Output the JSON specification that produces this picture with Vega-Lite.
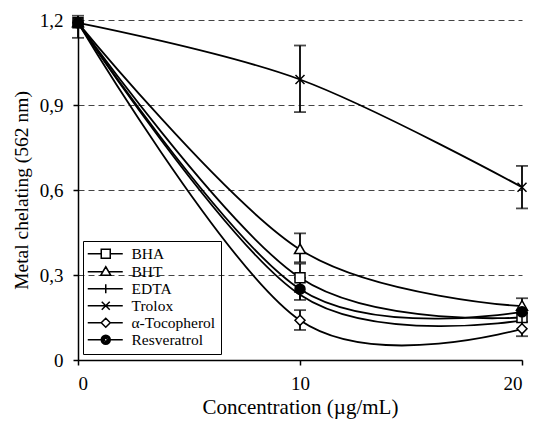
{
  "$schema": "https://vega.github.io/schema/vega-lite/v6.json",
  "width": 444,
  "height": 340,
  "autosize": {"type": "none"},
  "padding": {"left": 78, "top": 20, "right": 12, "bottom": 65},
  "background": "white",
  "config": {
    "view": {"stroke": null},
    "axis": {
      "domainColor": "black", "domainWidth": 1.5, "tickColor": "black", "tickWidth": 1.5,
      "labelFont": "Liberation Serif", "labelFontSize": 19, "labelColor": "black",
      "titleFont": "Liberation Serif", "titleFontWeight": "normal", "titleColor": "black"
    }
  },
  "data": {
    "values": [
      {"series": "BHA", "conc": 0, "value": 1.19, "lo": null, "hi": null},
      {"series": "BHA", "conc": 10, "value": 0.29, "lo": 0.24, "hi": 0.34},
      {"series": "BHA", "conc": 20, "value": 0.15, "lo": null, "hi": null},
      {"series": "BHT", "conc": 0, "value": 1.19, "lo": null, "hi": null},
      {"series": "BHT", "conc": 10, "value": 0.39, "lo": 0.345, "hi": 0.447},
      {"series": "BHT", "conc": 20, "value": 0.19, "lo": 0.165, "hi": 0.218},
      {"series": "EDTA", "conc": 0, "value": 1.19, "lo": null, "hi": null},
      {"series": "EDTA", "conc": 10, "value": 0.23, "lo": null, "hi": null},
      {"series": "EDTA", "conc": 20, "value": 0.14, "lo": null, "hi": null},
      {"series": "Trolox", "conc": 0, "value": 1.19, "lo": 1.137, "hi": 1.215},
      {"series": "Trolox", "conc": 10, "value": 0.99, "lo": 0.875, "hi": 1.11},
      {"series": "Trolox", "conc": 20, "value": 0.61, "lo": 0.535, "hi": 0.685},
      {"series": "α-Tocopherol", "conc": 0, "value": 1.19, "lo": null, "hi": null},
      {"series": "α-Tocopherol", "conc": 10, "value": 0.14, "lo": 0.106, "hi": 0.176},
      {"series": "α-Tocopherol", "conc": 20, "value": 0.11, "lo": 0.084, "hi": 0.135},
      {"series": "Resveratrol", "conc": 0, "value": 1.19, "lo": null, "hi": null},
      {"series": "Resveratrol", "conc": 10, "value": 0.25, "lo": 0.212, "hi": 0.29},
      {"series": "Resveratrol", "conc": 20, "value": 0.17, "lo": null, "hi": null}
    ]
  },
  "resolve": {"scale": {"shape": "independent"}},
  "layer": [
    {
      "mark": {"type": "line", "interpolate": "cardinal", "color": "black", "strokeWidth": 1.8},
      "encoding": {
        "x": {"field": "conc", "type": "quantitative", "scale": {"domain": [0, 20]},
          "axis": {"values": [0, 10, 20], "grid": false, "tickSize": 5, "labelPadding": 9, "title": "Concentration (µg/mL)", "titleFontSize": 21, "titlePadding": 3}},
        "y": {"field": "value", "type": "quantitative", "scale": {"domain": [0, 1.2]},
          "axis": {"values": [0, 0.3, 0.6, 0.9, 1.2], "grid": true, "gridDash": [6, 4], "gridColor": "#444", "gridWidth": 1,
            "tickSize": 5, "labelPadding": 10, "titlePadding": 8, "title": "Metal chelating (562 nm)", "titleFontSize": 19.5,
            "labelExpr": "datum.value == 0 ? '0' : replace(format(datum.value, '.1f'), '.', ',')"}},
        "detail": {"field": "series"}
      }
    },
    {
      "transform": [{"filter": "datum.lo != null"}],
      "mark": {"type": "rule", "color": "black", "strokeWidth": 1.8},
      "encoding": {
        "x": {"field": "conc", "type": "quantitative"},
        "y": {"field": "lo", "type": "quantitative"},
        "y2": {"field": "hi"}
      }
    },
    {
      "transform": [{"filter": "datum.lo != null"}],
      "mark": {"type": "tick", "orient": "horizontal", "color": "black", "size": 12, "thickness": 1.8},
      "encoding": {
        "x": {"field": "conc", "type": "quantitative"},
        "y": {"field": "lo", "type": "quantitative"}
      }
    },
    {
      "transform": [{"filter": "datum.lo != null"}],
      "mark": {"type": "tick", "orient": "horizontal", "color": "black", "size": 12, "thickness": 1.8},
      "encoding": {
        "x": {"field": "conc", "type": "quantitative"},
        "y": {"field": "hi", "type": "quantitative"}
      }
    },
    {
      "mark": {"type": "point", "filled": true, "stroke": "black", "strokeWidth": 1.5, "opacity": 1, "size": 100},
      "encoding": {
        "x": {"field": "conc", "type": "quantitative"},
        "y": {"field": "value", "type": "quantitative"},
        "shape": {"field": "series", "type": "nominal", "legend": null,
          "scale": {"domain": ["BHA", "BHT", "EDTA", "Trolox", "α-Tocopherol", "Resveratrol"],
            "range": ["square", "M0,-1.1L1.1,0.8H-1.1Z", "M0,-1V1", "M-0.9,-0.9L0.9,0.9M-0.9,0.9L0.9,-0.9", "diamond", "circle"]}},
        "fill": {"field": "series", "type": "nominal", "legend": null,
          "scale": {"domain": ["BHA", "BHT", "EDTA", "Trolox", "α-Tocopherol", "Resveratrol"],
            "range": ["white", "white", "white", "white", "white", "black"]}}
      }
    },
    {
      "transform": [{"filter": "false"}],
      "mark": {"type": "point", "filled": false, "color": "black", "stroke": "black", "strokeWidth": 1.5, "opacity": 1, "size": 100},
      "encoding": {
        "x": {"field": "conc", "type": "quantitative"},
        "y": {"field": "value", "type": "quantitative"},
        "shape": {"field": "series", "type": "nominal",
          "scale": {"domain": ["BHA", "BHT", "EDTA", "Trolox", "α-Tocopherol", "Resveratrol"],
            "range": [
              "M-1.6,0H1.1M2.9,0H5.4M1.1,-0.9H2.9V0.9H1.1Z",
              "M-1.6,0H1.4M2.6,0H5.4M2,-1L3,0.7H1Z",
              "M-1.6,0H5.4M2,-0.9V0.9",
              "M-1.6,0H5.4M1.2,-0.8L2.8,0.8M1.2,0.8L2.8,-0.8",
              "M-1.6,0H1.1M2.9,0H5.4M2,-0.9L2.9,0L2,0.9L1.1,0Z",
              "M-1.6,0H1.1M2.9,0H5.4M1.1,0A0.9,0.9,0,1,0,2.9,0A0.9,0.9,0,1,0,1.1,0M1.4,0A0.6,0.6,0,1,0,2.6,0A0.6,0.6,0,1,0,1.4,0M1.7,0A0.3,0.3,0,1,0,2.3,0A0.3,0.3,0,1,0,1.7,0"
            ]},
          "legend": {"orient": "none", "legendX": 5, "legendY": 221, "title": null,
            "strokeColor": "black", "padding": 5, "symbolSize": 100, "symbolStrokeWidth": 1.5, "symbolStrokeColor": "black",
            "symbolFillColor": "transparent",
            "labelFont": "Liberation Serif", "labelFontSize": 15.5, "labelColor": "black", "labelOffset": 28, "rowPadding": 0}}
      }
    }
  ]
}
